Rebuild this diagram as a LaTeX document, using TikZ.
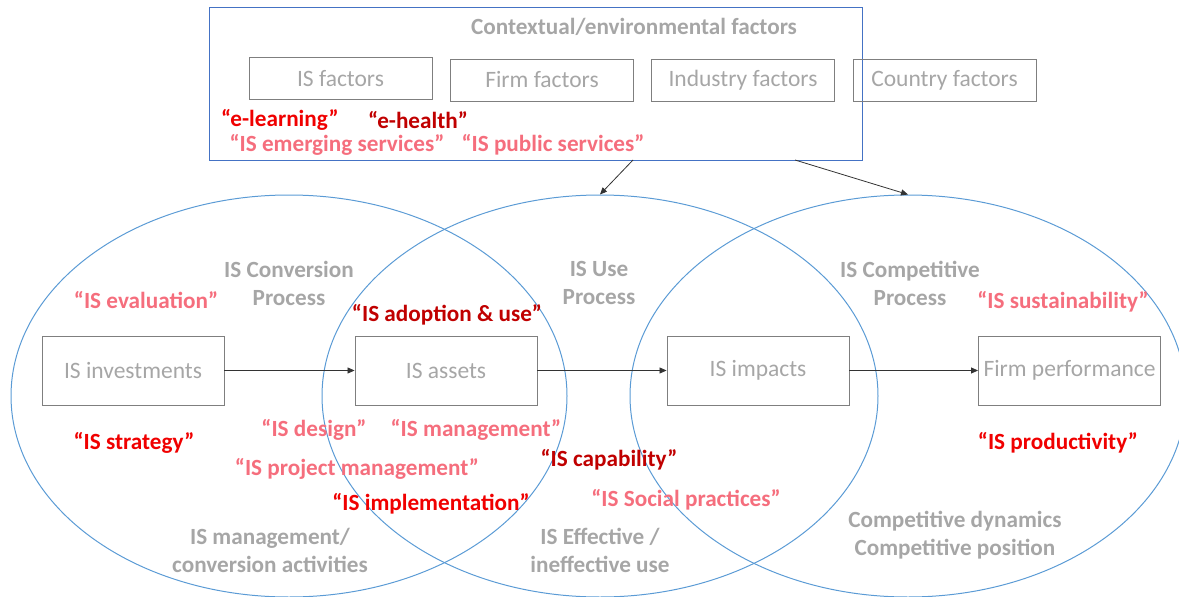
\documentclass[tikz,border=0pt]{standalone}
\usepackage{fontspec}
\setmainfont{Carlito}
\usetikzlibrary{arrows.meta,shapes.geometric}
\definecolor{gtxt}{RGB}{166,166,166}
\definecolor{gbox}{RGB}{127,127,127}
\definecolor{eblue}{RGB}{91,155,213}
\definecolor{bblue}{RGB}{68,114,196}
\definecolor{pinkr}{RGB}{245,110,125}
\definecolor{redr}{RGB}{240,0,0}
\definecolor{dredr}{RGB}{192,0,0}
\tikzset{
  fbox/.style={draw=gbox, line width=0.9pt, minimum width=183pt, minimum height=42pt, inner sep=0pt, text=gtxt, font=\fontsize{23.5}{26}\selectfont},
  mbox/.style={draw=gbox, line width=0.9pt, minimum width=182pt, minimum height=69pt, inner sep=0pt, text=gtxt, font=\fontsize{23.5}{26}\selectfont},
  glab/.style={text=gtxt, font=\bfseries\fontsize{23.2}{28}\selectfont, align=center, inner sep=0pt},
  pk/.style={text=pinkr, font=\bfseries\fontsize{23.2}{26}\selectfont, inner sep=0pt},
  rd/.style={text=redr, font=\bfseries\fontsize{23.2}{26}\selectfont, inner sep=0pt},
  dr/.style={text=dredr, font=\bfseries\fontsize{23.2}{26}\selectfont, inner sep=0pt},
  ell/.style={draw=eblue, line width=1pt, ellipse, minimum width=556pt, minimum height=402pt, inner sep=0pt},
  arr/.style={draw=black!80, line width=0.8pt, -{Triangle[length=7pt,width=6pt]}},
}
\begin{document}
\begin{tikzpicture}[x=1pt,y=-1pt]
\useasboundingbox (0,0) rectangle (1179,597);
% ellipses
\node[ell] (e1) at (289,396) {};
\node[ell] (e2) at (600,396) {};
\node[ell] (e3) at (908,396) {};
% top box
\node[draw=bblue, line width=1pt, minimum width=653pt, minimum height=153pt, inner sep=0pt] (ctx) at (535.5,83.5) {};
\node[glab] (ctxt) at (634,27) {Contextual/environmental factors};
\node[fbox] (f1) at (340.5,78.5) {IS factors};
\node[fbox] (f2) at (542,80) {Firm factors};
\node[fbox] (f3) at (743,80) {Industry factors};
\node[fbox] (f4) at (944.5,80) {Country factors};
\node[rd] (el) at (280,120) {“e-learning”};
\node[dr] (eh) at (418,120) {“e-health”};
\node[pk] (ies) at (337,145) {“IS emerging services”};
\node[pk] (ips) at (553,145) {“IS public services”};
\coordinate (c1) at (633,160);
\coordinate (c2) at (795,160);
\draw[arr] (c1) -- (e2.north);
\draw[arr] (c2) -- (e3.north);
% main boxes
\node[mbox] (inv) at (133,370.5) {IS investments};
\node[mbox] (ast) at (446,370.5) {IS assets};
\node[mbox] (imp) at (758,370.5) {IS impacts};
\node[mbox] (fp) at (1069.5,370.5) {Firm performance};
\draw[arr] (inv) -- (ast);
\draw[arr] (ast) -- (imp);
\draw[arr] (imp) -- (fp);
% gray labels
\node[glab] (l1) at (289,283) {IS Conversion\\Process};
\node[glab] (l2) at (599,283) {IS Use\\Process};
\node[glab] (l3) at (910,283) {IS Competitive\\Process};
\node[glab] (l4) at (270,550) {IS management/\\conversion activities};
\node[glab] (l5) at (600,550) {IS Effective /\\ineffective use};
\node[glab] (l6) at (955,535) {Competitive dynamics\\Competitive position};
% red labels
\node[pk] (t1) at (146,300) {“IS evaluation”};
\node[dr] (t2) at (447,315) {“IS adoption \& use”};
\node[pk] (t3) at (1063,302) {“IS sustainability”};
\node[rd] (t4) at (134,443) {“IS strategy”};
\node[pk] (t5) at (314,430) {“IS design”};
\node[pk] (t6) at (476,430) {“IS management”};
\node[pk] (t7) at (357,469) {“IS project management”};
\node[dr] (t8) at (609,460) {“IS capability”};
\node[rd] (t9) at (431,504) {“IS implementation”};
\node[pk] (t10) at (686,500) {“IS Social practices”};
\node[rd] (t11) at (1058,443) {“IS productivity”};
\end{tikzpicture}
\end{document}
